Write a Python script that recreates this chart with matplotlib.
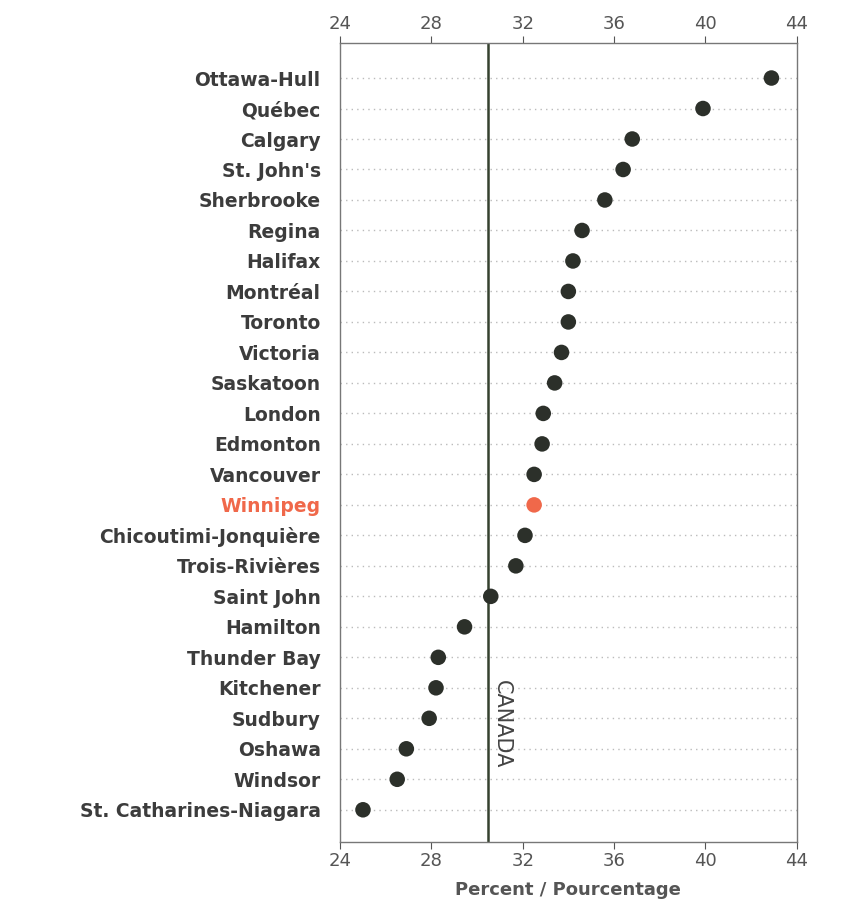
import matplotlib.pyplot as plt
import numpy as np

# Cities, top to bottom, with their percentage
cities = ["Ottawa-Hull", "Québec", "Calgary", "St. John's", "Sherbrooke", "Regina",
          "Halifax", "Montréal", "Toronto", "Victoria", "Saskatoon", "London",
          "Edmonton", "Vancouver", "Winnipeg", "Chicoutimi-Jonquière",
          "Trois-Rivières", "Saint John", "Hamilton", "Thunder Bay", "Kitchener",
          "Sudbury", "Oshawa", "Windsor", "St. Catharines-Niagara"]
values = [42.9, 39.9, 36.8, 36.4, 35.6, 34.6, 34.2, 34.0, 34.0, 33.7, 33.4, 32.9,
          32.85, 32.5, 32.5, 32.1, 31.7, 30.6, 29.45, 28.3, 28.2, 27.9, 26.9, 26.5, 25.0]
canada = 30.5
highlight = "Winnipeg"
xticks = [24, 28, 32, 36, 40, 44]

dark = "#2c302a"
orange = "#f0684a"
grey = "#555555"

fig = plt.figure(figsize=(8.42, 9.14), dpi=100)
ax = fig.add_axes([0.404, 0.079, 0.542, 0.874])

ypos = np.arange(len(cities))
colors = [orange if c == highlight else dark for c in cities]

# dotted guide lines for each row
for y in ypos:
    ax.plot([24, 44], [y, y], color="#bbbbbb", lw=1.0, ls=(0, (1, 3)), zorder=1)

ax.axvline(canada, color="#35412f", lw=1.8, zorder=2)
ax.scatter(values, ypos, s=125, c=colors, zorder=3, linewidths=0)

ax.text(canada + 0.6, 21.2, "CANADA", rotation=-90, ha="center", va="center",
        fontsize=15, color="#444444")

ax.set_xlim(24, 44)
ax.set_ylim(len(cities) - 1 + 1.05, -1.15)
ax.set_xticks(xticks)
ax.tick_params(axis="x", top=True, labeltop=True, direction="out", length=5,
               color=grey, labelcolor=grey, labelsize=13, pad=2)
ax.set_yticks(ypos)
ax.set_yticklabels(cities, fontsize=13.5, fontweight="bold")
ax.tick_params(axis="y", length=0, pad=14)
for lbl, c in zip(ax.get_yticklabels(), cities):
    lbl.set_color(orange if c == highlight else "#3c3c3c")

for s in ax.spines.values():
    s.set_color("#777777")
    s.set_linewidth(1.0)

ax.set_xlabel("Percent / Pourcentage", fontsize=13, fontweight="bold",
              color=grey, labelpad=8)

fig.savefig("out.png", dpi=100, facecolor="white")
